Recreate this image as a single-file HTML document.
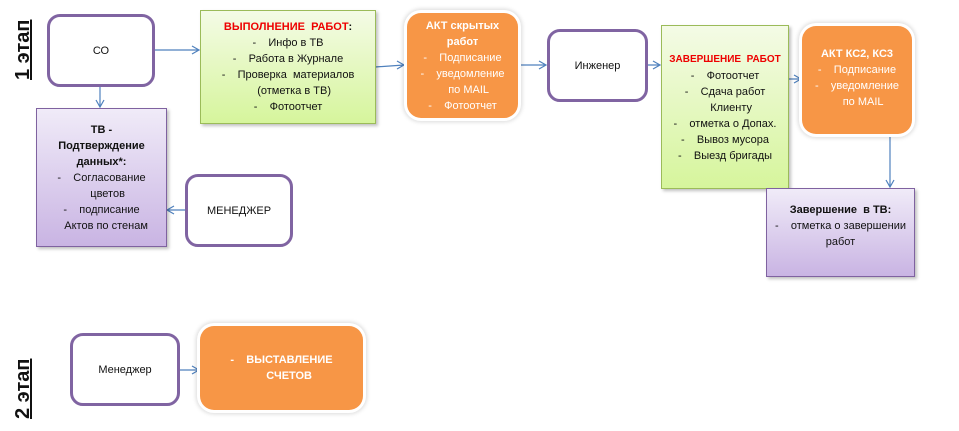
<!DOCTYPE html>
<html><head><meta charset="utf-8"><style>
body{margin:0;width:959px;height:431px;background:#fff;position:relative;overflow:hidden;font-family:"Liberation Sans","DejaVu Sans",sans-serif;font-size:11px;color:#111}
.b{position:absolute;box-sizing:border-box;display:flex;flex-direction:column;justify-content:center;align-items:center;text-align:center;line-height:16px}
.w{border:3px solid #8064a2;border-radius:13px;background:#fff}
.g{border:1px solid #9bbb59;background:linear-gradient(#f4fbe6,#d6f59c);box-shadow:2px 2px 3px rgba(0,0,0,.25)}
.p{border:1px solid #7f62a0;background:linear-gradient(#f0ebf8,#c9b4e3);box-shadow:2px 2px 3px rgba(0,0,0,.25)}
.o{background:#f79646;border-radius:14px;color:#fff;box-shadow:0 0 0 3px #fff,0 0 4px 4px rgba(0,0,0,.15)}
.r{color:#e00;font-weight:bold}
.v{position:absolute;font-weight:bold;font-size:20px;text-decoration:underline;transform:rotate(-90deg);transform-origin:left top;white-space:nowrap}
</style></head><body>
<div class="v" style="left:12px;top:80px">1 этап</div>
<div class="v" style="left:12px;top:419px">2 этап</div>
<svg width="959" height="431" style="position:absolute;left:0;top:0" fill="none" stroke="#4f81bd" stroke-width="1.2">
<path d="M155 50H199M192 46l7 4-7 4"/>
<path d="M100 87V107M96 100l4 7 4-7"/>
<path d="M185 210H167M174 206l-7 4 7 4"/>
<path d="M375 67L404 65M397 61l7 4-7 4"/>
<path d="M518 65H546M539 61l7 4-7 4"/>
<path d="M648 65H660M653 61l7 4-7 4"/>
<path d="M788 79H801M794 75l7 4-7 4"/>
<path d="M890 135V187M886 180l4 7 4-7"/>
<path d="M180 370H199M192 366l7 4-7 4"/>
</svg>
<div class="b w" style="left:47px;top:14px;width:108px;height:73px">СО</div>
<div class="b g" style="left:200px;top:10px;width:176px;height:114px"><div><span class="r">ВЫПОЛНЕНИЕ&nbsp; РАБОТ</span><b>:</b></div><div>- &nbsp;&nbsp; Инфо в ТВ</div><div>- &nbsp;&nbsp; Работа в Журнале</div><div>- &nbsp;&nbsp; Проверка&nbsp; материалов</div><div>&nbsp;&nbsp;&nbsp;&nbsp;(отметка в ТВ)</div><div>- &nbsp;&nbsp; Фотоотчет</div></div>
<div class="b p" style="left:36px;top:108px;width:131px;height:139px"><b>ТВ -</b><b>Подтверждение</b><b>данных*:</b><div>- &nbsp;&nbsp; Согласование</div><div>&nbsp;&nbsp;&nbsp;&nbsp;цветов</div><div>- &nbsp;&nbsp; подписание</div><div>&nbsp;&nbsp;&nbsp;Актов по стенам</div></div>
<div class="b w" style="left:185px;top:174px;width:108px;height:73px">МЕНЕДЖЕР</div>
<div class="b o" style="left:407px;top:13px;width:111px;height:105px"><b>АКТ скрытых</b><b>работ</b><div>- &nbsp;&nbsp; Подписание</div><div>- &nbsp;&nbsp; уведомление</div><div>&nbsp;&nbsp;&nbsp;&nbsp;по MAIL</div><div>- &nbsp;&nbsp; Фотоотчет</div></div>
<div class="b w" style="left:547px;top:29px;width:101px;height:73px">Инженер</div>
<div class="b g" style="left:661px;top:25px;width:128px;height:164px;justify-content:flex-start;padding-top:26px"><div class="r" style="font-size:10px">ЗАВЕРШЕНИЕ&nbsp; РАБОТ</div><div>- &nbsp;&nbsp; Фотоотчет</div><div>- &nbsp;&nbsp; Сдача работ</div><div>&nbsp;&nbsp;&nbsp;&nbsp;Клиенту</div><div>- &nbsp;&nbsp; отметка о Допах.</div><div>- &nbsp;&nbsp; Вывоз мусора</div><div>- &nbsp;&nbsp; Выезд бригады</div></div>
<div class="b o" style="left:802px;top:26px;width:110px;height:108px;justify-content:flex-start;padding-top:20px"><b>АКТ КС2, КС3</b><div>- &nbsp;&nbsp; Подписание</div><div>- &nbsp;&nbsp; уведомление</div><div>&nbsp;&nbsp;&nbsp;&nbsp;по MAIL</div></div>
<div class="b p" style="left:766px;top:188px;width:149px;height:89px;justify-content:flex-start;padding-top:13px"><b>Завершение &nbsp;в ТВ:</b><div>- &nbsp;&nbsp; отметка о завершении</div><div>работ</div></div>
<div class="b w" style="left:70px;top:333px;width:110px;height:73px">Менеджер</div>
<div class="b o" style="left:200px;top:326px;width:163px;height:84px"><b>- &nbsp;&nbsp; ВЫСТАВЛЕНИЕ</b><b>&nbsp;&nbsp;&nbsp;&nbsp;&nbsp;СЧЕТОВ</b></div>
</body></html>
